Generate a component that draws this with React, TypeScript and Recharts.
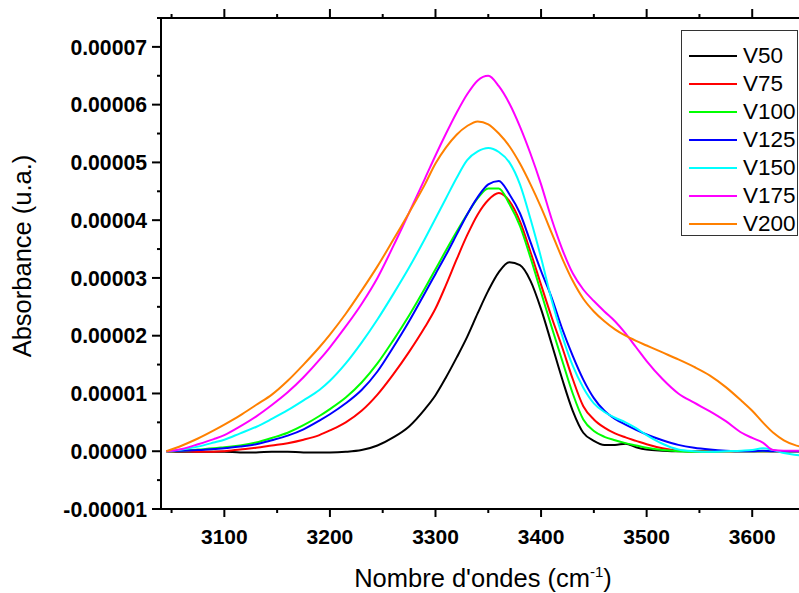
import React from 'react';
import { LineChart, Line, XAxis, YAxis } from 'recharts';

// Wavenumber (cm-1)
const wavenumbers = [3045, 3060, 3075, 3090, 3100, 3115, 3130, 3145, 3160, 3175, 3190, 3200, 3215, 3230, 3245, 3260, 3275, 3290, 3300, 3310, 3320, 3330, 3340, 3350, 3360, 3370, 3380, 3390, 3400, 3410, 3420, 3430, 3440, 3450, 3460, 3470, 3480, 3490, 3500, 3515, 3530, 3545, 3560, 3575, 3590, 3600, 3610, 3620, 3630, 3640, 3650];

// Absorbance values in units of 1e-5
const v50 = [0, -0.01, -0.01, -0.01, -0.01, -0.02, -0.02, -0.01, -0.01, -0.02, -0.02, -0.02, -0.01, 0.02, 0.10, 0.24, 0.43, 0.73, 0.97, 1.28, 1.62, 1.98, 2.39, 2.78, 3.10, 3.27, 3.22, 2.95, 2.46, 1.86, 1.25, 0.70, 0.32, 0.18, 0.11, 0.11, 0.13, 0.07, 0.03, 0.01, 0, 0, 0, 0, 0, 0, 0, 0, 0, 0, 0];
const v75 = [0, 0, -0.01, -0.01, 0, 0.03, 0.06, 0.10, 0.14, 0.20, 0.28, 0.36, 0.50, 0.70, 0.98, 1.33, 1.72, 2.15, 2.47, 2.88, 3.32, 3.74, 4.10, 4.35, 4.47, 4.33, 3.98, 3.45, 2.88, 2.32, 1.80, 1.25, 0.78, 0.55, 0.41, 0.31, 0.24, 0.18, 0.12, 0.05, 0.01, 0, 0, 0, 0, 0, 0, 0, 0, 0, 0];
const v100 = [0, 0.01, 0.03, 0.05, 0.07, 0.10, 0.15, 0.23, 0.32, 0.45, 0.61, 0.73, 0.93, 1.19, 1.52, 1.92, 2.35, 2.82, 3.15, 3.48, 3.80, 4.10, 4.38, 4.55, 4.55, 4.28, 3.90, 3.35, 2.75, 2.15, 1.57, 1.00, 0.55, 0.35, 0.25, 0.19, 0.14, 0.10, 0.06, 0.02, 0, -0.01, -0.01, 0, 0, 0, 0, 0, 0, 0, 0];
const v125 = [0, 0.01, 0.02, 0.04, 0.05, 0.08, 0.12, 0.19, 0.27, 0.38, 0.53, 0.64, 0.83, 1.06, 1.38, 1.80, 2.25, 2.74, 3.07, 3.40, 3.75, 4.10, 4.40, 4.62, 4.68, 4.45, 4.12, 3.62, 3.12, 2.66, 2.12, 1.65, 1.24, 0.92, 0.70, 0.56, 0.46, 0.37, 0.29, 0.19, 0.11, 0.06, 0.03, 0.01, 0, 0, 0.01, 0, 0, 0, 0];
const v150 = [0, 0.03, 0.08, 0.15, 0.20, 0.31, 0.42, 0.56, 0.71, 0.88, 1.06, 1.22, 1.52, 1.88, 2.28, 2.72, 3.18, 3.68, 4.03, 4.38, 4.73, 5.04, 5.19, 5.25, 5.18, 5.00, 4.62, 4.02, 3.35, 2.62, 2.00, 1.48, 1.10, 0.83, 0.68, 0.58, 0.50, 0.40, 0.28, 0.13, 0.03, 0, -0.01, 0, 0.01, 0.02, 0.05, 0.02, -0.03, -0.06, -0.08];
const v175 = [0, 0.04, 0.12, 0.21, 0.28, 0.43, 0.60, 0.80, 1.02, 1.28, 1.58, 1.80, 2.16, 2.55, 3.00, 3.55, 4.13, 4.72, 5.12, 5.50, 5.86, 6.18, 6.42, 6.50, 6.32, 6.02, 5.62, 5.15, 4.62, 4.02, 3.50, 3.08, 2.80, 2.60, 2.42, 2.25, 2.04, 1.80, 1.56, 1.25, 1.00, 0.84, 0.69, 0.52, 0.32, 0.23, 0.15, 0.02, 0.01, 0.01, 0.01];
const v200 = [0, 0.10, 0.22, 0.36, 0.46, 0.62, 0.80, 0.98, 1.22, 1.50, 1.80, 2.02, 2.38, 2.78, 3.20, 3.66, 4.13, 4.62, 4.98, 5.26, 5.48, 5.63, 5.71, 5.66, 5.50, 5.28, 4.98, 4.62, 4.22, 3.78, 3.34, 2.95, 2.64, 2.42, 2.25, 2.11, 2.00, 1.91, 1.83, 1.71, 1.59, 1.46, 1.31, 1.11, 0.87, 0.70, 0.50, 0.32, 0.19, 0.11, 0.06];

const seriesNames = ['V50', 'V75', 'V100', 'V125', 'V150', 'V175', 'V200'];
const seriesValues = [v50, v75, v100, v125, v150, v175, v200];
const seriesColors = ['#000000', '#ff0000', '#00ff00', '#0000ff', '#00ffff', '#ff00ff', '#ff8000'];

const xMajorTicks = [3100, 3200, 3300, 3400, 3500, 3600];
const xMinorTicks = [3050, 3150, 3250, 3350, 3450, 3550, 3650];
const yMajorTicks = [-0.00001, 0, 0.00001, 0.00002, 0.00003, 0.00004, 0.00005, 0.00006, 0.00007];
const yMinorTicks = [-0.000005, 0.000005, 0.000015, 0.000025, 0.000035, 0.000045, 0.000055, 0.000065, 0.000075];

const xAllTicks = [...xMajorTicks, ...xMinorTicks].sort((a, b) => a - b);
const yAllTicks = [...yMajorTicks, ...yMinorTicks].sort((a, b) => a - b);

const xDomain = [3040, 3650];
const yDomain = [-0.00001, 0.000075];

const data = wavenumbers.map((x, i) => {
  const row: Record<string, number> = { x };
  seriesNames.forEach((n, k) => {
    row[n] = seriesValues[k][i] * 1e-5;
  });
  return row;
});

const FONT = '"Liberation Sans", Arial, sans-serif';

const BottomTick = (props: any) => {
  const { x, y, payload } = props;
  const major = xMajorTicks.includes(payload.value);
  const len = major ? 8 : 4;
  return (
    <g>
      <line x1={x} y1={y} x2={x} y2={y + len} stroke="#000" strokeWidth={2} />
      {major && (
        <text x={x} y={y + 20} dy="0.71em" textAnchor="middle" fontSize={21} fontWeight="bold" fontFamily={FONT} fill="#000">
          {payload.value}
        </text>
      )}
    </g>
  );
};

const TopTick = (props: any) => {
  const { x, y, payload } = props;
  const len = xMajorTicks.includes(payload.value) ? 9 : 4;
  return <line x1={x} y1={y - len} x2={x} y2={y} stroke="#000" strokeWidth={2} />;
};

const LeftTick = (props: any) => {
  const { x, y, payload } = props;
  const major = yMajorTicks.includes(payload.value);
  const len = major ? 9 : 4;
  return (
    <g>
      <line x1={x - len} y1={y} x2={x} y2={y} stroke="#000" strokeWidth={2} />
      {major && (
        <text x={x - 14} y={y} dy="0.36em" textAnchor="end" fontSize={21.2} fontWeight="bold" fontFamily={FONT} fill="#000">
          {(payload.value as number).toFixed(5)}
        </text>
      )}
    </g>
  );
};

const XTitle = (props: any) => {
  const vb = props.viewBox || {};
  const cx = vb.x + vb.width / 2;
  return (
    <text x={cx} y={587} textAnchor="middle" fontSize={25.5} fontFamily={FONT} fill="#000">
      Nombre d'ondes (cm
      <tspan dy={-10} fontSize={15}>-1</tspan>
      <tspan dy={10}>)</tspan>
    </text>
  );
};

const YTitle = () => (
  <text x={22} y={256} transform="rotate(-90 22 256)" textAnchor="middle" dominantBaseline="central" fontSize={25.5} fontFamily={FONT} fill="#000">
    Absorbance (u.a.)
  </text>
);

export default function App() {
  return (
    <div style={{ position: 'absolute', left: 0, top: 0, width: 799, height: 593, overflow: 'hidden', background: '#fff' }}>
      <LineChart width={820} height={593} data={data} margin={{ top: 17, right: 15, left: 61, bottom: 34 }}>
        <XAxis xAxisId="main" dataKey="x" type="number" domain={xDomain} ticks={xAllTicks} tick={BottomTick} tickLine={false} tickSize={0} tickMargin={0} height={50} axisLine={{ stroke: '#000', strokeWidth: 2 }} allowDataOverflow interval={0} label={<XTitle />} />
        <XAxis xAxisId="top" orientation="top" dataKey="x" type="number" domain={xDomain} ticks={xAllTicks} tick={TopTick} tickLine={false} tickSize={0} tickMargin={0} height={1} axisLine={{ stroke: '#000', strokeWidth: 2 }} allowDataOverflow interval={0} />
        <YAxis yAxisId="main" type="number" domain={yDomain} ticks={yAllTicks} tick={LeftTick} tickLine={false} tickSize={0} tickMargin={0} width={100} axisLine={{ stroke: '#000', strokeWidth: 2 }} allowDataOverflow interval={0} label={<YTitle />} />
        {seriesNames.map((n, k) => (
          <Line key={n} xAxisId="main" yAxisId="main" type="monotone" dataKey={n} stroke={seriesColors[k]} strokeWidth={2} dot={false} isAnimationActive={false} />
        ))}
      </LineChart>
      <div style={{ position: 'absolute', left: 681, top: 30, width: 117, height: 206, border: '1px solid #333', background: '#fff', boxSizing: 'border-box', paddingTop: 11 }}>
        {seriesNames.map((n, k) => (
          <div key={n} style={{ height: 28, display: 'flex', alignItems: 'center' }}>
            <svg width={61} height={10} style={{ display: 'block' }}>
              <line x1={7} y1={5} x2={55} y2={5} stroke={seriesColors[k]} strokeWidth={2} />
            </svg>
            <span style={{ fontFamily: FONT, fontSize: 22.5, color: '#000', lineHeight: '28px' }}>{n}</span>
          </div>
        ))}
      </div>
    </div>
  );
}
